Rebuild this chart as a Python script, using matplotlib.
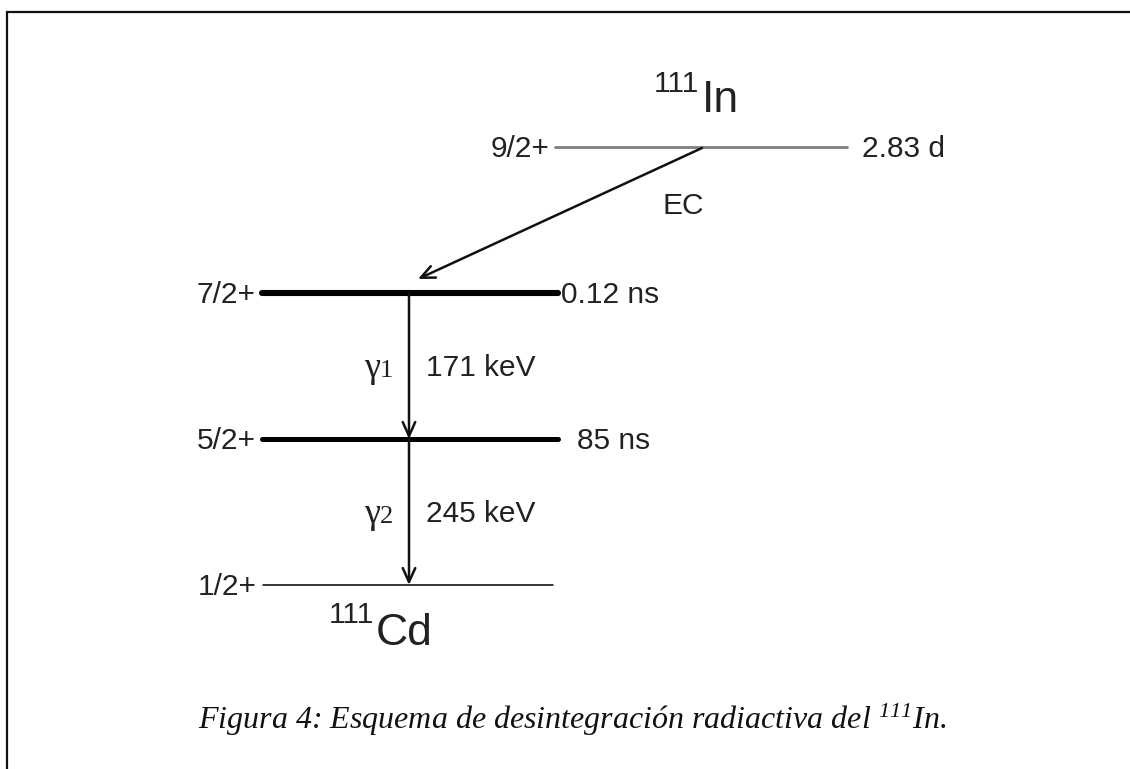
import matplotlib
matplotlib.use("Agg")
import matplotlib.pyplot as plt

plt.rcParams['mathtext.fontset'] = 'custom'
plt.rcParams['mathtext.rm'] = 'Liberation Serif:italic'
plt.rcParams['mathtext.it'] = 'Liberation Serif:italic'

sans = 'Liberation Sans'
serif = 'Liberation Serif'

# level scheme (pixel layout of the original drawing)
spins = ['9/2+', '7/2+', '5/2+', '1/2+']
lifetimes = ['2.83 d', '0.12 ns', '85 ns', '']
level_y = [147, 293, 439, 585]
level_x0 = [555, 262, 262, 263]
level_x1 = [847, 558, 558, 553]
level_lw = [2.0, 4.4, 3.6, 1.1]
level_col = ['#808080', 'black', 'black', 'black']
life_x = [862, 561, 577, 0]

# gamma cascade
gammas = ['1', '2']
gamma_E = ['171 keV', '245 keV']
gamma_from = [1, 2]
gamma_to = [2, 3]
gamma_x = 409

# EC decay
ec_start = (702, 148)
ec_end = (418, 279)

fs = 21.5

fig = plt.figure(figsize=(11.3, 7.69), dpi=100)
ax = fig.add_axes([0, 0, 1, 1])
ax.set_xlim(0, 1130)
ax.set_ylim(769, 0)
ax.axis('off')

# frame (only top and left edges visible)
ax.plot([7, 7, 1130], [769, 12, 12], color='#111111', lw=1.6,
        solid_joinstyle='miter')

for i in range(len(spins)):
    y = level_y[i]
    ax.plot([level_x0[i], level_x1[i]], [y, y], color=level_col[i],
            lw=level_lw[i], solid_capstyle='round')
    ax.text(level_x0[i] - 6, y + 10, spins[i], ha='right', va='baseline',
            fontsize=fs, family=sans, color='#222222')
    if lifetimes[i]:
        ax.text(life_x[i], y + 10, lifetimes[i], ha='left', va='baseline',
                fontsize=fs, family=sans, color='#222222')

# EC arrow
ax.annotate('', xy=ec_end, xytext=ec_start,
            arrowprops=dict(arrowstyle='->,head_length=1.0,head_width=0.45',
                            lw=1.8, color='#111111', shrinkA=0, shrinkB=0))
ax.text(683, 214, 'EC', ha='center', va='baseline', fontsize=fs,
        family=sans, color='#222222')

# gamma transitions
for k in range(len(gammas)):
    y0 = level_y[gamma_from[k]]
    y1 = level_y[gamma_to[k]]
    ax.annotate('', xy=(gamma_x, y1), xytext=(gamma_x, y0),
                arrowprops=dict(arrowstyle='->,head_length=1.0,head_width=0.45',
                                lw=1.8, color='#111111', shrinkA=0, shrinkB=0))
    yb = (y0 + y1) / 2 + 11
    ax.text(380, yb, '\u03b3', ha='right', va='baseline', fontsize=26,
            family=serif, color='#222222')
    ax.text(380, yb, gammas[k], ha='left', va='baseline', fontsize=19,
            family=serif, color='#222222')
    ax.text(426, yb - 1, gamma_E[k], ha='left', va='baseline', fontsize=fs,
            family=sans, color='#222222')

# nuclide labels
ax.text(702, 112, 'In', ha='left', va='baseline', fontsize=32,
        family=sans, color='#222222')
ax.text(699, 92, '111', ha='right', va='baseline', fontsize=fs,
        family=sans, color='#222222')
ax.text(376, 645, 'Cd', ha='left', va='baseline', fontsize=32,
        family=sans, color='#222222')
ax.text(374, 623, '111', ha='right', va='baseline', fontsize=fs,
        family=sans, color='#222222')

# caption
ax.text(198, 729,
        'Figura 4: Esquema de desintegración radiactiva del $^{111}$In.',
        ha='left', va='baseline', fontsize=23, family=serif, style='italic',
        color='#111111')

fig.savefig('out.png', dpi=100)
